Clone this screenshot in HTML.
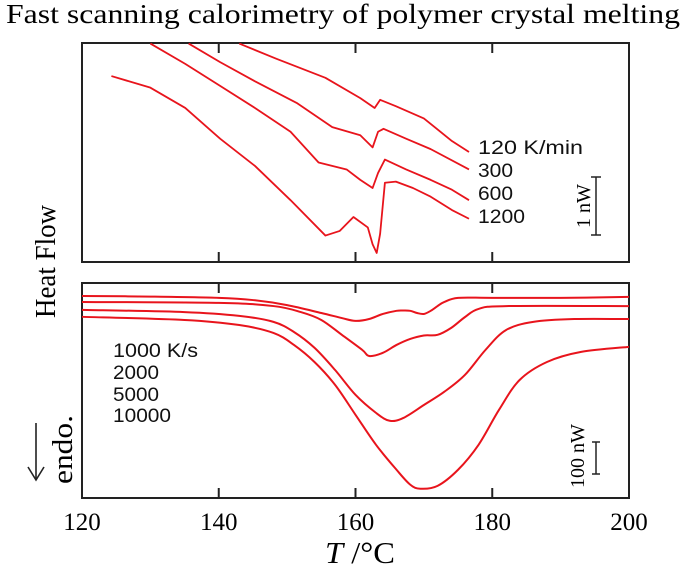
<!DOCTYPE html>
<html><head><meta charset="utf-8"><style>
body{margin:0;background:#fff;width:685px;height:568px;overflow:hidden}
svg{display:block}
</style></head><body>
<svg id="chart" width="685" height="568" font-family="Liberation Serif, serif">
<text x="6" y="23" font-size="27" textLength="674" lengthAdjust="spacingAndGlyphs">Fast scanning calorimetry of polymer crystal melting</text>
<rect x="82" y="43" width="547" height="219" fill="none" stroke="#222" stroke-width="2"/>
<rect x="82" y="283" width="547" height="215" fill="none" stroke="#222" stroke-width="2"/>
<g id="ticks"></g>
<g id="tickLabels" font-size="25"></g>
<text x="325" y="563" font-size="31" textLength="70" lengthAdjust="spacingAndGlyphs"><tspan font-style="italic">T</tspan> /°C</text>
<text transform="translate(55,318) rotate(-90)" font-size="28" textLength="113" lengthAdjust="spacingAndGlyphs">Heat Flow</text>
<text transform="translate(72,484) rotate(-90)" font-size="28" textLength="69" lengthAdjust="spacingAndGlyphs">endo.</text>
<g stroke="#222" stroke-width="1.6" fill="none">
<line x1="36" y1="423" x2="36" y2="480"/><polyline points="28,467 36,480 44,467"/></g>
<g id="topCurves"></g>
<g id="botCurves"></g>
<g font-family="Liberation Sans, sans-serif" font-size="19" fill="#111">
<text x="478" y="154" textLength="105" lengthAdjust="spacingAndGlyphs">120 K/min</text>
<text x="478" y="177" textLength="35" lengthAdjust="spacingAndGlyphs">300</text>
<text x="478" y="200" textLength="35" lengthAdjust="spacingAndGlyphs">600</text>
<text x="478" y="223" textLength="47" lengthAdjust="spacingAndGlyphs">1200</text>
<text x="113" y="357" textLength="85" lengthAdjust="spacingAndGlyphs">1000 K/s</text>
<text x="113" y="379" textLength="46" lengthAdjust="spacingAndGlyphs">2000</text>
<text x="113" y="401" textLength="46" lengthAdjust="spacingAndGlyphs">5000</text>
<text x="113" y="422" textLength="58" lengthAdjust="spacingAndGlyphs">10000</text>
</g>
<g stroke="#222" stroke-width="1.5">
<line x1="596" y1="177" x2="596" y2="235"/><line x1="591" y1="177" x2="601" y2="177"/><line x1="591" y1="235" x2="601" y2="235"/></g>
<text transform="translate(590,206) rotate(-90)" text-anchor="middle" font-size="20">1 nW</text>
<g stroke="#222" stroke-width="1.5">
<line x1="596" y1="442" x2="596" y2="474"/><line x1="592" y1="442" x2="600" y2="442"/><line x1="592" y1="474" x2="600" y2="474"/></g>
<text transform="translate(584,456) rotate(-90)" text-anchor="middle" font-size="20">100 nW</text>
</svg>
<script>
const xTicks=[120,140,160,180,200];
const topNames=["120 K/min","300","600","1200"];
const topT=[
[143.0,148.4,155.6,160.7,162.8,163.6,165.9,170.0,174.1,176.6],
[135.6,140.2,145.3,151.5,156.6,160.7,162.5,163.3,164.1,167.4,171.0,176.6],
[130.0,135.1,140.2,145.3,150.5,154.6,158.7,160.7,162.5,163.3,164.3,167.4,171.0,174.1,176.6],
[124.3,130.0,135.1,140.2,145.3,150.5,155.6,157.7,159.7,161.8,162.5,163.1,163.6,164.3,165.9,168.4,171.0,174.1,176.6]];
const topV=[
[-0.01,-0.27,-0.60,-0.95,-1.12,-0.98,-1.09,-1.30,-1.69,-1.88],
[-0.01,-0.33,-0.66,-1.04,-1.45,-1.59,-1.80,-1.53,-1.48,-1.65,-1.83,-2.18],
[-0.01,-0.36,-0.74,-1.12,-1.53,-2.06,-2.18,-2.36,-2.50,-2.24,-2.01,-2.18,-2.36,-2.53,-2.71],
[-0.57,-0.77,-1.12,-1.65,-2.12,-2.71,-3.32,-3.24,-3.00,-3.18,-3.47,-3.62,-3.29,-2.41,-2.39,-2.50,-2.65,-2.88,-3.03]];
const botNames=["1000 K/s","2000","5000","10000"];
const botT=[
[120,130,140,145,150,155,158,160,162,164,166,167,168,169,170,171,172,173,175,180,190,200],
[120,140,148,152,155,158,161,162,164,166,168,170,172,174,176,178,182,200],
[120,135,143,148,151,154,157,160,163,165,167,170,173,176,179,182,186,192,200],
[120,135,143,148,151,154,157,160,163,166,168,169.5,172,175,178,181,184,188,193,200]];
const botV=[
[-41,-43,-47,-54,-70,-95,-111,-120,-114,-98,-88,-87,-88,-95,-98,-88,-73,-60,-47,-47,-47,-44],
[-60,-63,-73,-92,-117,-164,-212,-231,-221,-196,-177,-166,-164,-142,-108,-82,-73,-73],
[-85,-92,-104,-123,-155,-205,-275,-354,-411,-436,-427,-386,-344,-291,-212,-149,-123,-114,-114],
[-107,-117,-133,-158,-196,-250,-322,-417,-512,-591,-638,-651,-642,-591,-512,-401,-307,-250,-218,-202]];
const NS="http://www.w3.org/2000/svg";
const xS=t=>82+(t-120)*547/80;
const yTop=v=>43-v*58;
const yBot=v=>283-v*0.316;
const tk=document.getElementById('ticks'),tl=document.getElementById('tickLabels');
xTicks.forEach(t=>{
 [[43,53],[252,262],[283,293],[488,498]].forEach(([a,b])=>{
  if(t===120||t===200)return;
  const l=document.createElementNS(NS,'line');
  l.setAttribute('x1',xS(t));l.setAttribute('x2',xS(t));l.setAttribute('y1',a);l.setAttribute('y2',b);
  l.setAttribute('stroke','#222');l.setAttribute('stroke-width','2');
  
  
  tk.appendChild(l);});
 const s=document.createElementNS(NS,'text');
 s.setAttribute('x',xS(t));s.setAttribute('y',530);s.setAttribute('text-anchor','middle');s.textContent=t;
 
 
 tl.appendChild(s);});
function smooth(p){let d=`M${p[0][0]},${p[0][1]}`;
 for(let i=0;i<p.length-1;i++){const p0=p[i-1]||p[i],p1=p[i],p2=p[i+1],p3=p[i+2]||p2;
  d+=` C${p1[0]+(p2[0]-p0[0])/6},${p1[1]+(p2[1]-p0[1])/6} ${p2[0]-(p3[0]-p1[0])/6},${p2[1]-(p3[1]-p1[1])/6} ${p2[0]},${p2[1]}`;}
 return d;}
const tg=document.getElementById('topCurves');
topT.forEach((ts,k)=>{const p=ts.map((t,i)=>[xS(t),yTop(topV[k][i])]);
 const e=document.createElementNS(NS,'polyline');
 e.setAttribute('points',p.map(q=>q.join(',')).join(' '));
 e.setAttribute('fill','none');e.setAttribute('stroke','#e8141c');e.setAttribute('stroke-width','1.8');e.setAttribute('stroke-linejoin','round');
 
 
 tg.appendChild(e);});
const bg=document.getElementById('botCurves');
botT.forEach((ts,k)=>{const p=ts.map((t,i)=>[xS(t),yBot(botV[k][i])]);
 const e=document.createElementNS(NS,'path');
 e.setAttribute('d',smooth(p));
 e.setAttribute('fill','none');e.setAttribute('stroke','#e8141c');e.setAttribute('stroke-width','2');
 
 
 bg.appendChild(e);});
</script>
</body></html>
